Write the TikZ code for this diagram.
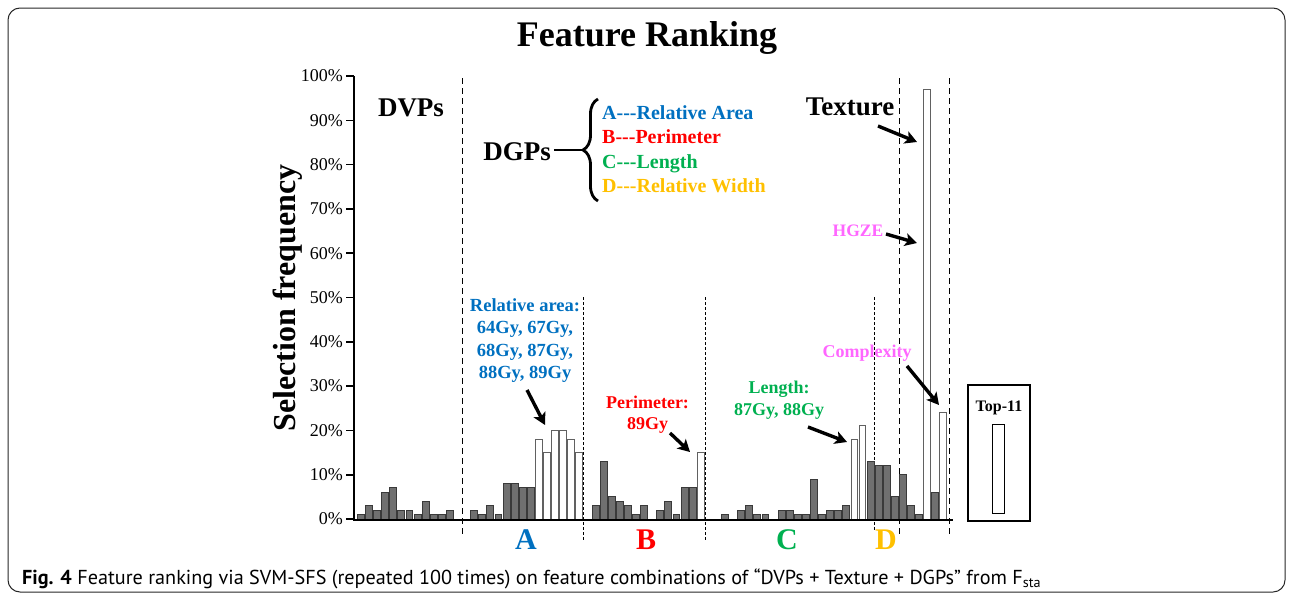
\documentclass[tikz,border=0pt]{standalone}
\usepackage{fontspec}
\setmainfont{Liberation Serif}
\newfontfamily\capfont{PT Sans}
\usetikzlibrary{arrows.meta,decorations.pathreplacing}
\definecolor{cA}{HTML}{0070C0}
\definecolor{cB}{HTML}{FF0000}
\definecolor{cC}{HTML}{00B050}
\definecolor{cD}{HTML}{FFC000}
\definecolor{cP}{HTML}{FF66FF}
\definecolor{barfill}{HTML}{707070}
\definecolor{barline}{HTML}{3A3A3A}
\newcommand{\tdash}{-\kern0pt-\kern0pt-}
\begin{document}
\begin{tikzpicture}[x=1pt,y=-1pt,
  every node/.style={inner sep=0pt},
  bigb/.style={font=\fontsize{27}{30}\selectfont\bfseries},
  legl/.style={font=\fontsize{20}{24}\selectfont\bfseries, anchor=base west},
  ann/.style={font=\fontsize{18}{22}\selectfont\bfseries, align=center},
  pinklbl/.style={font=\fontsize{17.5}{20}\selectfont\bfseries, text=cP, anchor=base},
  letter/.style={font=\fontsize{30}{32}\selectfont\bfseries},
  ticklbl/.style={font=\fontsize{18}{20}\selectfont, anchor=east},
  arr/.style={line width=3.4pt, -{Stealth[length=12pt,width=13pt,inset=3pt]}},
  thickdash/.style={line width=0.9pt, dash pattern=on 6pt off 4pt},
  thindot/.style={line width=0.7pt, dash pattern=on 2.5pt off 2.5pt},
  graybar/.style={fill=barfill, draw=barline, line width=1pt},
  whitebar/.style={fill=white, draw=barline!80, line width=1pt}]
\useasboundingbox (0,0) rectangle (1292,597);
% frame
\draw[rounded corners=12pt, line width=1pt, black!85] (8,8) rectangle (1285,592);
% title
\node[font=\fontsize{36}{40}\selectfont\bfseries] (title) at (647,38) {Feature Ranking};
% y label
\node[font=\fontsize{32}{36}\selectfont\bfseries, rotate=90] (ylab) at (288,298) {Selection frequency};
% tick labels and ticks
\foreach \p in {0,10,...,100}{
  \node[ticklbl] (t\p) at (343,{519-4.43*\p}) {\p\%};
  \draw[line width=1.6pt] (346,{519-4.43*\p}) -- (354,{519-4.43*\p});
}
% dashed separators
\draw[thickdash] (462,78) -- (462,537);
\draw[thickdash] (899,78) -- (899,537);
\draw[thickdash] (949,78) -- (949,537);
\draw[thindot] (583,297) -- (583,540);
\draw[thindot] (705,297) -- (705,540);
\draw[thindot] (874,297) -- (874,530);
% bars
\foreach \i/\v in {0/1,1/3,2/2,3/6,4/7,5/2,6/2,7/1,8/4,9/1,10/1,11/2,14/2,15/1,16/3,17/1,18/8,19/8,20/7,21/7,29/3,30/13,31/5,32/4,33/3,34/1,35/3,37/2,38/4,39/1,40/7,41/7,45/1,47/2,48/3,49/1,50/1,52/2,53/2,54/1,55/1,56/9,57/1,58/2,59/2,60/3,63/13,64/12,65/12,66/5,67/10,68/3,69/1,71/6}{
  \pgfmathsetmacro\xl{357+8.09*\i}
  \draw[graybar] (\xl+0.5,519) rectangle (\xl+7.4,{519-4.43*\v});
}
\foreach \i/\v in {22/18,23/15,24/20,25/20,26/18,27/15,42/15,61/18,62/21,70/97,72/24}{
  \pgfmathsetmacro\xl{357+8.09*\i}
  \draw[whitebar] (\xl+0.5,519) rectangle (\xl+7.4,{519-4.43*\v});
}
% axes
\draw[line width=2pt] (354,76) -- (354,519.5) -- (953,519.5);
% group letters
\node[letter, text=cA] (LA) at (526,540) {A};
\node[letter, text=cB] (LB) at (646,540) {B};
\node[letter, text=cC] (LC) at (787,540) {C};
\node[letter, text=cD] (LD) at (886,540) {D};
% DVPs, DGPs legend
\node[bigb, anchor=base] (dvps) at (411,116) {DVPs};
\node[bigb, anchor=base] (dgps) at (517,160) {DGPs};
\draw[line width=2.8pt, decorate, decoration={brace, amplitude=15pt}] (598,201) -- (598,99);
\draw[line width=2.4pt] (dgps.east |- 0,150) ++(3,0) coordinate (bs) -- (584,150) coordinate (bt);
\node[legl, text=cA] (legA) at (602,119) {A\tdash Relative Area};
\node[legl, text=cB] (legB) at (602,143.5) {B\tdash Perimeter};
\node[legl, text=cC] (legC) at (602,168) {C\tdash Length};
\node[legl, text=cD] (legD) at (602,192.5) {D\tdash Relative Width};
% annotations
\node[ann, text=cA, font=\fontsize{18.5}{22.3}\selectfont\bfseries] (relA) at (525,340.5) {Relative area:\\64Gy, 67Gy,\\68Gy, 87Gy,\\88Gy, 89Gy};
\node[ann, text=cB, font=\fontsize{18}{21}\selectfont\bfseries] (perim) at (647.5,414.5) {Perimeter:\\89Gy};
\node[ann, text=cC, font=\fontsize{18}{22}\selectfont\bfseries] (lenC) at (779,400) {Length:\\87Gy, 88Gy};
\node[bigb, anchor=base] (tex) at (850,115) {Texture};
\node[pinklbl] (hgze) at (858,236.7) {HGZE};
\node[pinklbl, font=\fontsize{18}{20}\selectfont\bfseries] (cplx) at (867,357) {Complexity};
% arrows
\coordinate (a1s) at (527,390); \coordinate (a1e) at (545,425);
\coordinate (a2s) at (670,433); \coordinate (a2e) at (690,452);
\coordinate (a3s) at (808,427); \coordinate (a3e) at (847,442);
\coordinate (a4s) at (878,126); \coordinate (a4e) at (917,142);
\coordinate (a5s) at (886,234); \coordinate (a5e) at (917,243);
\coordinate (a6s) at (907,366); \coordinate (a6e) at (939,405);
\draw[arr] (a1s) -- (a1e);
\draw[arr] (a2s) -- (a2e);
\draw[arr] (a3s) -- (a3e);
\draw[arr] (a4s) -- (a4e);
\draw[arr] (a5s) -- (a5e);
\draw[arr] (a6s) -- (a6e);
% Top-11 box
\node[draw, line width=1.2pt, minimum width=62pt, minimum height=136pt] (topbox) at (999,453) {};
\node[font=\fontsize{16}{18}\selectfont\bfseries] (toplbl) at (999,408) {Top-11};
\node[draw, line width=1pt, minimum width=12pt, minimum height=89pt] (topbar) at (998,468.5) {};
% caption
\node[anchor=base west, font=\capfont\fontsize{20.2}{22}\selectfont] (cap) at (22,584) {\textbf{Fig. 4} Feature ranking via SVM-SFS (repeated 100 times) on feature combinations of “DVPs + Texture + DGPs” from F\textsubscript{sta}};
\end{tikzpicture}
\end{document}
